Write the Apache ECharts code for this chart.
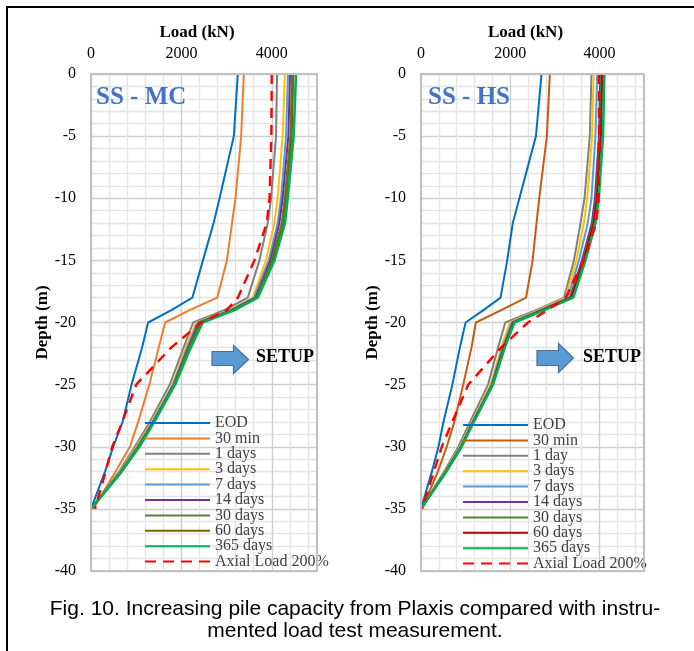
<!DOCTYPE html>
<html><head><meta charset="utf-8">
<script src="https://cdn.jsdelivr.net/npm/echarts/dist/echarts.min.js"></script>
<style>html,body{margin:0;padding:0;background:#fff}#c{width:694px;height:651px}</style>
</head><body><div id="c"></div>
<script>
// Depth (m) shared by all profiles
const depth = [0, -5, -10, -12, -15, -18, -19, -20, -22, -25, -28, -30, -32, -35];

// SS - MC (left) loads in kN
const mc_EOD     = [3248, 3160, 2845, 2712, 2477, 2242, 1779, 1264, 1132, 897, 698, 492, 310, 0];
const mc_30min   = [3381, 3322, 3197, 3120, 3006, 2793, 2183, 1640, 1500, 1290, 1044, 860, 544, 51];
const mc_1day    = [4116, 4094, 3984, 3910, 3726, 3469, 2950, 2260, 2050, 1742, 1300, 970, 620, 0];
const mc_3days   = [4290, 4240, 4130, 4057, 3873, 3579, 3050, 2330, 2100, 1800, 1340, 1010, 640, 0];
const mc_7days   = [4358, 4315, 4204, 4130, 3932, 3610, 3080, 2360, 2130, 1815, 1360, 1030, 650, 0];
const mc_14days  = [4403, 4366, 4240, 4167, 3969, 3640, 3110, 2390, 2150, 1830, 1375, 1040, 660, 0];
const mc_30days  = [4447, 4410, 4285, 4219, 3998, 3660, 3130, 2420, 2170, 1840, 1385, 1050, 665, 0];
const mc_60days  = [4476, 4440, 4315, 4255, 4020, 3675, 3150, 2440, 2185, 1848, 1390, 1055, 670, 0];
const mc_365days = [4535, 4484, 4351, 4292, 4057, 3690, 3175, 2470, 2210, 1860, 1400, 1070, 680, 0];
const mc_axial   = [3998, 3990, 3950, 3888, 3616, 3249, 3006, 2440, 1780, 1000, 690, 470, 323, 88];

// SS - HS (right) loads in kN
const hs_EOD     = [2702, 2577, 2206, 2058, 1933, 1784, 1400, 1000, 873, 703, 503, 392, 244, 0];
const hs_30min   = [2889, 2822, 2651, 2590, 2503, 2355, 1800, 1230, 1133, 947, 747, 577, 377, 22];
const hs_1day    = [3822, 3785, 3666, 3577, 3429, 3206, 2577, 1890, 1730, 1503, 1100, 837, 520, 0];
const hs_3days   = [3870, 3837, 3726, 3651, 3481, 3244, 2620, 1990, 1800, 1562, 1140, 870, 540, 0];
const hs_7days   = [3950, 3911, 3822, 3740, 3540, 3296, 2660, 2030, 1830, 1580, 1155, 885, 550, 0];
const hs_14days  = [4020, 3990, 3900, 3830, 3610, 3340, 2700, 2058, 1850, 1595, 1165, 895, 555, 0];
const hs_30days  = [4045, 4015, 3925, 3855, 3635, 3355, 2720, 2073, 1860, 1600, 1170, 900, 560, 0];
const hs_60days  = [4065, 4035, 3945, 3870, 3650, 3370, 2735, 2080, 1865, 1605, 1175, 905, 562, 0];
const hs_365days = [4110, 4081, 3985, 3911, 3688, 3414, 2762, 2095, 1880, 1614, 1185, 910, 570, 0];
const hs_axial   = [3990, 3990, 3985, 3930, 3650, 3244, 2836, 2400, 1800, 1060, 700, 466, 290, 22];

const mcNames = ['EOD', '30 min', '1 days', '3 days', '7 days', '14 days', '30 days', '60 days', '365 days', 'Axial Load 200%'];
const hsNames = ['EOD', '30 min', '1 day', '3 days', '7 days', '14 days', '30 days', '60 days', '365 days', 'Axial Load 200%'];
const xTicks = [0, 2000, 4000];
const yTicks = [0, -5, -10, -15, -20, -25, -30, -35, -40];

const mcColors = ['#0070C0', '#ED7D31', '#808080', '#FFC000', '#5B9BD5', '#7030A0', '#548235', '#7F6000', '#00B050', '#FF0000'];
const hsColors = ['#0070C0', '#C55A11', '#808080', '#FFC000', '#5B9BD5', '#7030A0', '#548235', '#C00000', '#00B050', '#FF0000'];

const mcData = [mc_EOD, mc_30min, mc_1day, mc_3days, mc_7days, mc_14days, mc_30days, mc_60days, mc_365days, mc_axial];
const hsData = [hs_EOD, hs_30min, hs_1day, hs_3days, hs_7days, hs_14days, hs_30days, hs_60days, hs_365days, hs_axial];

const SERIF = '"Liberation Serif", "Times New Roman", serif';
const MAJOR = '#CFCFCF', MINOR = '#E4E4E4';
const ICON_SOLID = 'path://M0,0H65V2H0Z';
const ICON_DASH = 'path://M0,0H11V2H0ZM18,0H29V2H18ZM36,0H47V2H36ZM54,0H65V2H54Z';

function widthOf(i) { return i === 8 ? 2.6 : (i === 9 ? 2.4 : 2); }
function lineStyleOf(colors, i) {
  return { color: colors[i], width: widthOf(i), type: i === 9 ? [10, 7] : 'solid' };
}

function makeSeries(names, colors, data, gi) {
  return names.map((n, i) => ({
    name: n, type: 'line', xAxisIndex: gi, yAxisIndex: gi,
    symbol: 'none', smooth: false, z: 3 + (i === 9 ? 2 : 0),
    lineStyle: lineStyleOf(colors, i), itemStyle: { color: colors[i] },
    data: depth.map((d, k) => [data[i][k], d])
  }));
}

function xAxis(gi) {
  return {
    type: 'value', gridIndex: gi, position: 'top', min: 0, max: 5000, interval: 400,
    name: 'Load (kN)', nameLocation: 'middle', nameGap: 29,
    nameTextStyle: { fontFamily: SERIF, fontWeight: 'bold', fontSize: 17, color: '#000', padding: [0, 14, 0, 0] },
    axisLine: { show: false }, axisTick: { show: false },
    axisLabel: { fontFamily: SERIF, fontSize: 16, color: '#000', margin: 12,
      formatter: v => (xTicks.indexOf(v) >= 0 ? String(v) : '') },
    splitLine: { show: true, lineStyle: { color: [MAJOR, MINOR, MINOR, MINOR, MINOR], width: 1.4 } }
  };
}
function yAxis(gi) {
  return {
    type: 'value', gridIndex: gi, min: -40, max: 0, interval: 1,
    name: 'Depth (m)', nameLocation: 'middle', nameGap: 40, nameRotate: 90,
    nameTextStyle: { fontFamily: SERIF, fontWeight: 'bold', fontSize: 17, color: '#000' },
    axisLine: { show: false }, axisTick: { show: false },
    axisLabel: { fontFamily: SERIF, fontSize: 16, color: '#000', margin: 15,
      formatter: v => (yTicks.indexOf(v) >= 0 ? String(v) : '') },
    splitLine: { show: true, lineStyle: { color: [MAJOR, MINOR, MINOR, MINOR, MINOR], width: 1.4 } }
  };
}

function legend(names, colors, left, top) {
  return {
    orient: 'vertical', left: left, top: top, itemWidth: 65, itemHeight: 2.2, itemGap: -0.6,
    padding: 0, selectedMode: false,
    textStyle: { fontFamily: SERIF, fontSize: 16, lineHeight: 15, color: '#404040' },
    data: names.map((n, i) => ({ name: n, icon: i === 9 ? ICON_DASH : ICON_SOLID,
      itemStyle: { color: colors[i], borderWidth: 0 } }))
  };
}

function arrow(x0, yb0, yb1, xh, yh0, yh1, xt) {
  const ym = (yh0 + yh1) / 2;
  return { type: 'polygon', z: 10,
    shape: { points: [[x0, yb0], [xh, yb0], [xh, yh0], [xt, ym], [xh, yh1], [xh, yb1], [x0, yb1]] },
    style: { fill: '#5B9BD5', stroke: '#41719C', lineWidth: 1.2 } };
}

const chart = echarts.init(document.getElementById('c'), null, { renderer: 'canvas' });
chart.setOption({
  animation: false,
  backgroundColor: '#fff',
  grid: [
    { left: 91, top: 74, width: 226, height: 497, show: false },
    { left: 421, top: 74, width: 223, height: 497, show: false }
  ],
  xAxis: [xAxis(0), xAxis(1)],
  yAxis: [yAxis(0), yAxis(1)],
  legend: [legend(mcNames, mcColors, 145, 415), legend(hsNames, hsColors, 463, 417)],
  series: makeSeries(mcNames, mcColors, mcData, 0).concat(makeSeries(hsNames, hsColors, hsData, 1)),
  graphic: [
    { type: 'rect', z: 20, silent: true, shape: { x: 7, y: 7, width: 800, height: 800 }, style: { fill: 'none', stroke: '#000', lineWidth: 2 } },
    { type: 'rect', z: 8, silent: true, shape: { x: 91, y: 74, width: 226, height: 497 }, style: { fill: 'none', stroke: '#C0C0C0', lineWidth: 2 } },
    { type: 'rect', z: 8, silent: true, shape: { x: 421, y: 74, width: 223, height: 497 }, style: { fill: 'none', stroke: '#C0C0C0', lineWidth: 2 } },
    { type: 'text', z: 10, x: 96, y: 98, style: { text: 'SS - MC', font: 'bold 25px ' + SERIF, fill: '#4472C4', verticalAlign: 'middle' } },
    { type: 'text', z: 10, x: 428, y: 98, style: { text: 'SS - HS', font: 'bold 25px ' + SERIF, fill: '#4472C4', verticalAlign: 'middle' } },
    arrow(212, 351.5, 365.5, 233.5, 345.5, 373.5, 248.5),
    arrow(537, 350.5, 365.5, 558.5, 343.5, 372.5, 573.5),
    { type: 'text', z: 10, x: 256, y: 357, style: { text: 'SETUP', font: 'bold 18px ' + SERIF, fill: '#000', verticalAlign: 'middle' } },
    { type: 'text', z: 10, x: 583, y: 357, style: { text: 'SETUP', font: 'bold 18px ' + SERIF, fill: '#000', verticalAlign: 'middle' } },
    { type: 'text', z: 10, x: 355, y: 609, style: { text: 'Fig. 10. Increasing pile capacity from Plaxis compared with instru-', font: '21px "Liberation Sans", Arial, sans-serif', fill: '#000', align: 'center', verticalAlign: 'middle' } },
    { type: 'text', z: 10, x: 355, y: 631, style: { text: 'mented load test measurement.', font: '21px "Liberation Sans", Arial, sans-serif', fill: '#000', align: 'center', verticalAlign: 'middle' } }
  ]
});
</script></body></html>
